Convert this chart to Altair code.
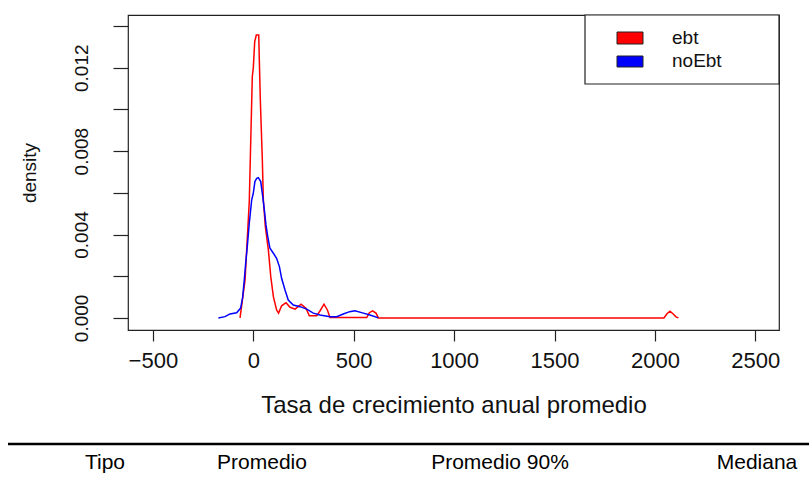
import altair as alt
import pandas as pd

# ---- data ----
ebt_x = [-66, -41, -20, -5, 0, 7, 15, 27, 30, 35, 40, 45, 50, 60, 75, 87, 100, 116, 126, 141, 163, 183, 208,
         238, 262, 279, 316, 335, 352, 369, 382, 565, 578, 594, 611, 623, 2045, 2060, 2075, 2090, 2105, 2117]
ebt_y = [0.0, 0.00182, 0.00558, 0.01157, 0.01200, 0.01325, 0.01357, 0.01357, 0.01237, 0.01046, 0.00900,
         0.00758, 0.00566, 0.00438, 0.00326, 0.00198, 0.00102, 0.00038, 0.00023, 0.00058, 0.00073, 0.00051,
         0.00042, 0.00066, 0.00047, 0.0001, 0.0001, 0.00038, 0.00066, 0.00038, 0.00002, 0.00002, 0.00025,
         0.00034, 0.00023, 0.0, 0.0, 0.0002, 0.00032, 0.0002, 0.00005, 0.0]

noebt_x = [-174, -141, -116, -83, -63, -53, -45, -38, -30, -20, -8, 0, 8, 17, 25, 37, 47, 55, 63, 72, 83,
           100, 116, 130, 141, 158, 174, 199, 233, 266, 299, 332, 382, 415, 448, 480, 506, 548, 581, 623]
noebt_y = [0.0, 0.00006, 0.00019, 0.00025, 0.00047, 0.00099, 0.00182, 0.00262, 0.00342, 0.00454, 0.00566,
           0.00598, 0.00654, 0.0067, 0.00673, 0.00654, 0.00582, 0.00518, 0.00446, 0.0039, 0.00334, 0.0031,
           0.00286, 0.00246, 0.0019, 0.00134, 0.00086, 0.00062, 0.00054, 0.00042, 0.00023, 0.00014, 0.00006,
           0.00006, 0.00019, 0.0003, 0.00034, 0.00023, 0.00014, 0.0]

series = ["ebt", "noEbt"]
colors = ["#FF0000", "#0000FF"]
x_ticks = [-500, 0, 500, 1000, 1500, 2000, 2500]
y_ticks = [0.0, 0.002, 0.004, 0.006, 0.008, 0.010, 0.012, 0.014]
y_labelled = ["0.000", "0.004", "0.008", "0.012"]
x_title = "Tasa de crecimiento anual promedio"
y_title = "density"
table_headers = ["Tipo", "Promedio", "Promedio 90%", "Mediana"]

FONT = "Liberation Sans"
W, H = 651, 315

df = pd.concat([
    pd.DataFrame({"x": ebt_x, "y": ebt_y, "serie": "ebt", "o": range(len(ebt_x))}),
    pd.DataFrame({"x": noebt_x, "y": noebt_y, "serie": "noEbt", "o": range(len(noebt_x))}),
])

label_expr = ("indexof(" + str(y_labelled) + ", format(datum.value, '.3f')) >= 0 ? "
              "format(datum.value, '.3f') : ''")

lines = alt.Chart(df).mark_line(strokeWidth=1.5, interpolate="linear").encode(
    x=alt.X("x:Q", scale=alt.Scale(domain=[-624, 2618], nice=False, zero=False),
            axis=alt.Axis(values=x_ticks, title=x_title, grid=False, domain=False,
                          tickSize=11, tickColor="#222", tickWidth=1.2,
                          labelFont=FONT, labelFontSize=22, labelColor="#111", labelPadding=9,
                          titleFont=FONT, titleFontSize=24, titleFontWeight="normal",
                          titleColor="#111", titlePadding=22, format="d")),
    y=alt.Y("y:Q", scale=alt.Scale(domain=[-0.00058, 0.01453], nice=False, zero=False),
            axis=alt.Axis(values=y_ticks, title=y_title, grid=False, domain=False,
                          tickSize=15, tickColor="#222", tickWidth=1.2,
                          labelExpr=label_expr, labelAngle=270, labelAlign="center",
                          labelBaseline="bottom", labelPadding=22,
                          labelFont=FONT, labelFontSize=19, labelColor="#111",
                          titleFont=FONT, titleFontSize=19, titleFontWeight="normal",
                          titleColor="#111", titlePadding=33)),
    color=alt.Color("serie:N", scale=alt.Scale(domain=series, range=colors), legend=None),
    detail="serie:N",
    order="o:Q",
)

# legend (drawn like R's legend box)
leg_df = pd.DataFrame({"serie": series, "color": colors})
leg_box = alt.Chart(pd.DataFrame({"a": [0]})).mark_rect(
    fill="white", stroke="#222", strokeWidth=1.2).encode(
    x=alt.value(457), x2=alt.value(W), y=alt.value(0), y2=alt.value(69))

leg_layers = [leg_box]
sw_y = [(17, 29), (41, 52)]
tx_y = [23, 46]
for i, s in enumerate(series):
    one = leg_df[leg_df.serie == s]
    leg_layers.append(alt.Chart(one).mark_rect(stroke="#222", strokeWidth=1).encode(
        x=alt.value(489), x2=alt.value(515), y=alt.value(sw_y[i][0]), y2=alt.value(sw_y[i][1]),
        fill=alt.Color("color:N", scale=None)))
    leg_layers.append(alt.Chart(one).mark_text(
        align="left", baseline="middle", font=FONT, fontSize=19, color="#111").encode(
        x=alt.value(544), y=alt.value(tx_y[i]), text="serie:N"))

# table header below the figure
rule = alt.Chart(pd.DataFrame({"a": [0]})).mark_rule(color="black", strokeWidth=2.5).encode(
    x=alt.value(-120), x2=alt.value(681), y=alt.value(429))

hdr_x = [-23, 134, 372, 629]
hdr_layers = []
for i, h in enumerate(table_headers):
    hdr_layers.append(alt.Chart(pd.DataFrame({"t": [h]})).mark_text(
        align="center", baseline="middle", font=FONT, fontSize=21, color="black").encode(
        x=alt.value(hdr_x[i]), y=alt.value(448), text="t:N"))

chart = alt.layer(lines, *leg_layers, rule, *hdr_layers).properties(
    width=W, height=H,
    autosize=alt.AutoSizeParams(type="none"),
    padding={"left": 128, "top": 15, "right": 809 - 128 - W, "bottom": 479 - 15 - H},
    background="white",
).configure_view(stroke="#222", strokeWidth=1.2)

chart.save("out.html", embed_options={"renderer": "svg", "actions": False})
